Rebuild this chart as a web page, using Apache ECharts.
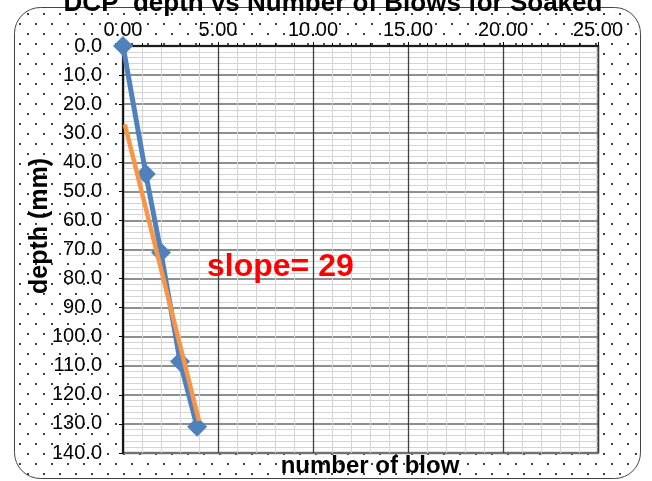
<!DOCTYPE html>
<html>
<head>
<meta charset="utf-8">
<style>
  html, body { margin: 0; padding: 0; background: #fff; }
  #chart { width: 652px; height: 481px; }
</style>
<script src="https://cdn.jsdelivr.net/npm/echarts@6/dist/echarts.min.js"></script>
</head>
<body>
<div id="chart"></div>
<script>
// DCP test: cumulative blows vs penetration depth (soaked sample)
const blows = [0, 1.2, 2, 3, 3.9];
const depth = [0, 44, 71, 108.5, 131];

// fitted trend line end points
const trendBlows = [0.1, 4.0];
const trendDepth = [27, 129];

const xTicks = { min: 0, max: 25, step: 5 };
const yTicks = { min: 0, max: 140, step: 10 };

const titleText = 'DCP  depth vs Number of Blows for Soaked';
const slopeText = 'slope= 29';

// dotted fill for the chart frame
function dotPattern() {
  const c = document.createElement('canvas');
  c.width = 16; c.height = 20;
  const g = c.getContext('2d');
  g.fillStyle = '#000';
  g.beginPath(); g.arc(4, 4, 1.0, 0, Math.PI * 2); g.fill();
  g.beginPath(); g.arc(12, 14, 1.0, 0, Math.PI * 2); g.fill();
  return c;
}

const chart = echarts.init(document.getElementById('chart'), null, { renderer: 'canvas' });

const font = '"Liberation Sans", Arial, sans-serif';

chart.setOption({
  backgroundColor: '#fff',
  animation: false,
  grid: {
    left: 123, top: 46, width: 475, height: 407,
    show: true, backgroundColor: '#fff',
    borderColor: '#8c8c8c', borderWidth: 2.5,
    containLabel: false
  },
  graphic: [
    {
      type: 'rect', z: -100, silent: true,
      shape: { x: 14.5, y: 7.5, width: 626, height: 471, r: 26 },
      style: { fill: { image: dotPattern(), repeat: 'repeat' }, stroke: '#444', lineWidth: 1 }
    },
    {
      type: 'text', z: 100, x: 333, y: 17,
      style: { text: titleText, fill: '#000', font: 'bold 26px ' + font, textAlign: 'center', textVerticalAlign: 'bottom' }
    },
    {
      type: 'text', z: 100, x: 370, y: 466,
      style: { text: 'number of blow', fill: '#000', font: 'bold 24px ' + font, textAlign: 'center', textVerticalAlign: 'middle' }
    },
    {
      type: 'text', z: 100, x: 40, y: 226, rotation: Math.PI / 2,
      style: { text: 'depth (mm)', fill: '#000', font: 'bold 25px ' + font, textAlign: 'center', textVerticalAlign: 'middle' }
    },
    {
      type: 'text', z: 100, x: 207, y: 267,
      style: { text: slopeText, fill: '#ff0000', font: 'bold 32px ' + font, textAlign: 'left', textVerticalAlign: 'middle' }
    }
  ],
  xAxis: {
    type: 'value', position: 'top',
    min: xTicks.min, max: xTicks.max, interval: xTicks.step,
    axisLine: { show: true, onZero: false, lineStyle: { color: '#000', width: 1.5 } },
    axisTick: { show: true, inside: false, length: 4, lineStyle: { color: '#000' } },
    minorTick: { show: true, splitNumber: 5, length: 3, lineStyle: { color: '#000' } },
    axisLabel: {
      margin: 6, color: '#000', fontSize: 20, fontFamily: font,
      formatter: v => v.toFixed(2)
    },
    splitLine: { show: true, lineStyle: { color: '#404040', width: 1.3 } },
    minorSplitLine: { show: true, lineStyle: { color: '#d4d4d4', width: 1 } }
  },
  yAxis: {
    type: 'value', inverse: true,
    min: yTicks.min, max: yTicks.max, interval: yTicks.step,
    axisLine: { show: true, onZero: false, lineStyle: { color: '#000', width: 1.5 } },
    axisTick: { show: true, inside: false, length: 4, lineStyle: { color: '#000' } },
    minorTick: { show: false, splitNumber: 5 },
    axisLabel: {
      margin: 21, color: '#000', fontSize: 20, fontFamily: font,
      formatter: v => v.toFixed(1)
    },
    splitLine: { show: true, lineStyle: { color: '#6a6a6a', width: 1.5 } },
    minorSplitLine: { show: true, lineStyle: { color: '#d4d4d4', width: 1 } }
  },
  series: [
    {
      type: 'line', name: 'depth',
      data: blows.map((b, i) => [b, depth[i]]),
      lineStyle: { color: '#4f81bd', width: 5 },
      itemStyle: { color: '#4f81bd' },
      symbol: 'diamond', symbolSize: 20,
      z: 3
    },
    {
      type: 'line', name: 'trend',
      data: trendBlows.map((b, i) => [b, trendDepth[i]]),
      lineStyle: { color: '#f79646', width: 4.5 },
      showSymbol: false, symbol: 'none',
      z: 4
    }
  ]
});
</script>
</body>
</html>
